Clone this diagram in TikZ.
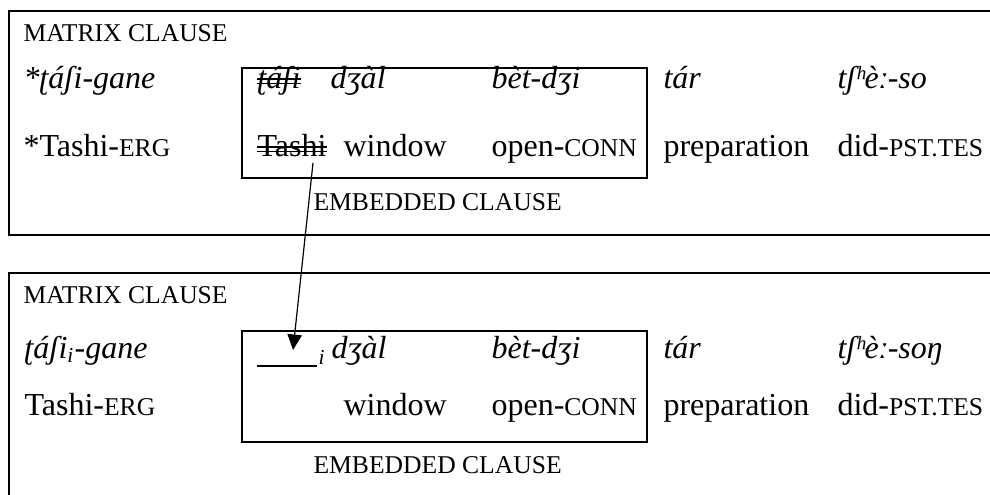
\documentclass[tikz,border=0pt]{standalone}
\usepackage{fontspec}
\setmainfont{Liberation Serif}
\usetikzlibrary{arrows.meta}
% glossing abbreviations in reduced capitals
\newcommand\gsc[1]{{\fontsize{9.6pt}{11pt}\selectfont #1}}
\newcommand\lblfont{\fontsize{9.6pt}{11pt}\selectfont}
\newcommand\wordfont{\fontsize{12pt}{14pt}\selectfont}
\begin{document}
\begin{tikzpicture}[x=0.375pt,y=-0.375pt,
  word/.style={anchor=base west,inner sep=0pt,font=\wordfont},
  ital/.style={anchor=base west,inner sep=0pt,font=\wordfont\itshape},
  tag/.style={anchor=base west,inner sep=0pt,font=\lblfont},
  frame/.style={line width=0.6pt},
  strike/.style={line width=0.5pt},
  gapline/.style={line width=0.4pt},
  move/.style={line width=0.45pt,-{Triangle[length=5.8pt,width=5.4pt]}}]
\useasboundingbox (0,0) rectangle (990,494);

% ---------- first example: ungrammatical ----------
\draw[frame] (1000,11) -- (9,11) -- (9,235) -- (1000,235);
\draw[frame] (242,68) rectangle (647,178);
\node[tag] (mA) at (23,41) {MATRIX CLAUSE};
\node[tag] (eA) at (313,210) {EMBEDDED CLAUSE};

\node[ital] (a1) at (23,88) {*ʈáʃi-gane};
\node[ital] (a2) at (257,88) {ʈáʃi};
\node[ital] (a3) at (330,88) {dʒàl};
\node[ital] (a4) at (491,88) {bèt-dʒi};
\node[ital] (a5) at (663,88) {tár};
\node[ital] (a6) at (837,88) {tʃʰèː-so};

\node[word] (b1) at (23,156) {*Tashi-\gsc{ERG}};
\node[word] (b2) at (257,156) {Tashi};
\node[word] (b3) at (343,156) {window};
\node[word] (b4) at (491,156) {open-\gsc{CONN}};
\node[word] (b5) at (663,156) {preparation};
\node[word] (b6) at (837,156) {did-\gsc{PST.TES}};

% double strike-through of the deleted subject
\foreach \n in {a2,b2}{
  \draw[strike] ([yshift=1.8pt]\n.base west) -- ([yshift=1.8pt]\n.base east);
  \draw[strike] ([yshift=3.4pt]\n.base west) -- ([yshift=3.4pt]\n.base east);
}

% ---------- second example: controlled gap ----------
\draw[frame] (1000,273) -- (9,273) -- (9,500);
\draw[frame] (242,331) rectangle (647,442);
\node[tag] (mB) at (23,303) {MATRIX CLAUSE};
\node[tag] (eB) at (313,473) {EMBEDDED CLAUSE};

\node[ital] (c1) at (24,358) {ʈáʃi\textsubscript{i}-gane};
\coordinate (gapL) at (257,366);
\coordinate (gapR) at (317,366);
\draw[gapline] (gapL) -- (gapR);
\node[ital,font=\fontsize{8pt}{9pt}\selectfont\itshape] (gi) at (318,364) {i};
\node[ital] (c3) at (331,358) {dʒàl};
\node[ital] (c4) at (491,358) {bèt-dʒi};
\node[ital] (c5) at (663,358) {tár};
\node[ital] (c6) at (837,358) {tʃʰèː-soŋ};

\node[word] (d1) at (24,415) {Tashi-\gsc{ERG}};
\node[word] (d3) at (343,415) {window};
\node[word] (d4) at (491,415) {open-\gsc{CONN}};
\node[word] (d5) at (663,415) {preparation};
\node[word] (d6) at (837,415) {did-\gsc{PST.TES}};

% movement of the subject into the gap
\coordinate (src) at (313,163);
\coordinate (trace) at (293,350);
\draw[move] (src) -- (trace);
\end{tikzpicture}
\end{document}
